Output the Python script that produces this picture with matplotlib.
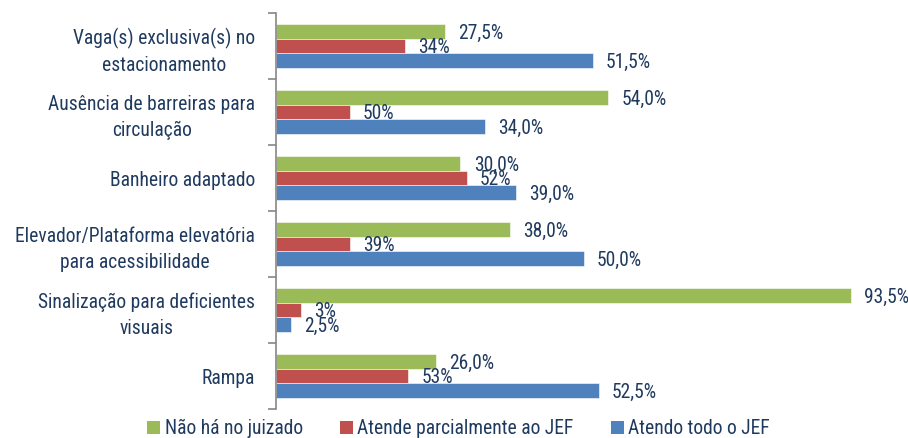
import matplotlib
matplotlib.use("Agg")
import matplotlib.pyplot as plt
from matplotlib.patches import Patch
from matplotlib import font_manager
import numpy as np

categories = [
    "Vaga(s) exclusiva(s) no\nestacionamento",
    "Ausência de barreiras para\ncirculação",
    "Banheiro adaptado",
    "Elevador/Plataforma elevatória\npara acessibilidade",
    "Sinalização para deficientes\nvisuais",
    "Rampa",
]
series_names = ["Não há no juizado", "Atende parcialmente ao JEF", "Atendo todo o JEF"]
nao_ha = [27.5, 54.0, 30.0, 38.0, 93.5, 26.0]
parcial = [21.0, 12.0, 31.0, 12.0, 4.0, 21.5]
todo = [51.5, 34.0, 39.0, 50.0, 2.5, 52.5]
nao_ha_labels = ["27,5%", "54,0%", "30,0%", "38,0%", "93,5%", "26,0%"]
parcial_labels = ["34%", "50%", "52%", "39%", "3%", "53%"]
todo_labels = ["51,5%", "34,0%", "39,0%", "50,0%", "2,5%", "52,5%"]

colors = ["#9BBB59", "#C0504D", "#4F81BD"]
text_color = "#1F3A5F"

names = {f.name for f in font_manager.fontManager.ttflist}
prefs = ["Roboto Condensed", "Archivo Narrow", "PT Sans Narrow", "Fira Sans Condensed",
         "IBM Plex Sans Condensed", "Asap Condensed", "Encode Sans Condensed",
         "Barlow Semi Condensed", "Open Sans Condensed", "Liberation Sans Narrow",
         "Arial Narrow"]
chosen = next((p for p in prefs if p in names), None)
stretch = "normal"
if chosen is None:
    chosen = "DejaVu Sans"
    stretch = "condensed"
plt.rcParams["font.family"] = [chosen, "DejaVu Sans"]
plt.rcParams["font.stretch"] = stretch

fig = plt.figure(figsize=(9.08, 4.38), dpi=100)
# calibrate font size so the first category line is ~180 px wide
r = fig.canvas.get_renderer()
t = fig.text(0, 0, "Vaga(s) exclusiva(s) no", fontsize=10)
w = t.get_window_extent(renderer=r).width
t.remove()
fs = 10 * 181 / w

ax = fig.add_axes([276 / 908, 1 - 409 / 438, (891 - 276) / 908, (409 - 13) / 438])

y = np.arange(len(categories))
h = 0.22
all_vals = [nao_ha, parcial, todo]
all_labels = [nao_ha_labels, parcial_labels, todo_labels]
offsets = [-h, 0, h]
for vals, labs, off, c in zip(all_vals, all_labels, offsets, colors):
    bars = ax.barh(y + off, vals, height=h, color=c, edgecolor="white", linewidth=0.4)
    for b, lab in zip(bars, labs):
        ax.annotate(lab, (b.get_width(), b.get_y() + b.get_height() / 2),
                    xytext=(9.5, -1.2), textcoords="offset points",
                    ha="left", va="center", fontsize=fs, color=text_color)

ax.set_xlim(0, 100)
ax.set_ylim(len(categories) - 0.5, -0.5)
ax.set_xticks([])
ax.set_yticks(np.arange(len(categories) + 1) - 0.5, minor=False)
ax.set_yticklabels([])
ax.set_yticks(y, minor=True)
ax.set_yticklabels(categories, minor=True, fontsize=fs, color=text_color,
                   multialignment="center", linespacing=1.45)
ax.tick_params(axis="y", which="major", length=5.5, width=1.2, color="#868686", direction="out")
ax.tick_params(axis="y", which="minor", length=0, pad=15)
for s in ["top", "right", "bottom"]:
    ax.spines[s].set_visible(False)
ax.spines["left"].set_color("#868686")
ax.spines["left"].set_linewidth(1.2)

handles = [Patch(facecolor=c, edgecolor="none") for c in colors]
fig.legend(handles, series_names, loc="center", bbox_to_anchor=(0.505, 0.022),
           ncol=3, frameon=False, fontsize=fs, labelcolor=text_color,
           handlelength=0.65, handleheight=0.65, handletextpad=0.25, columnspacing=1.9)

fig.savefig("out.png", dpi=100)
